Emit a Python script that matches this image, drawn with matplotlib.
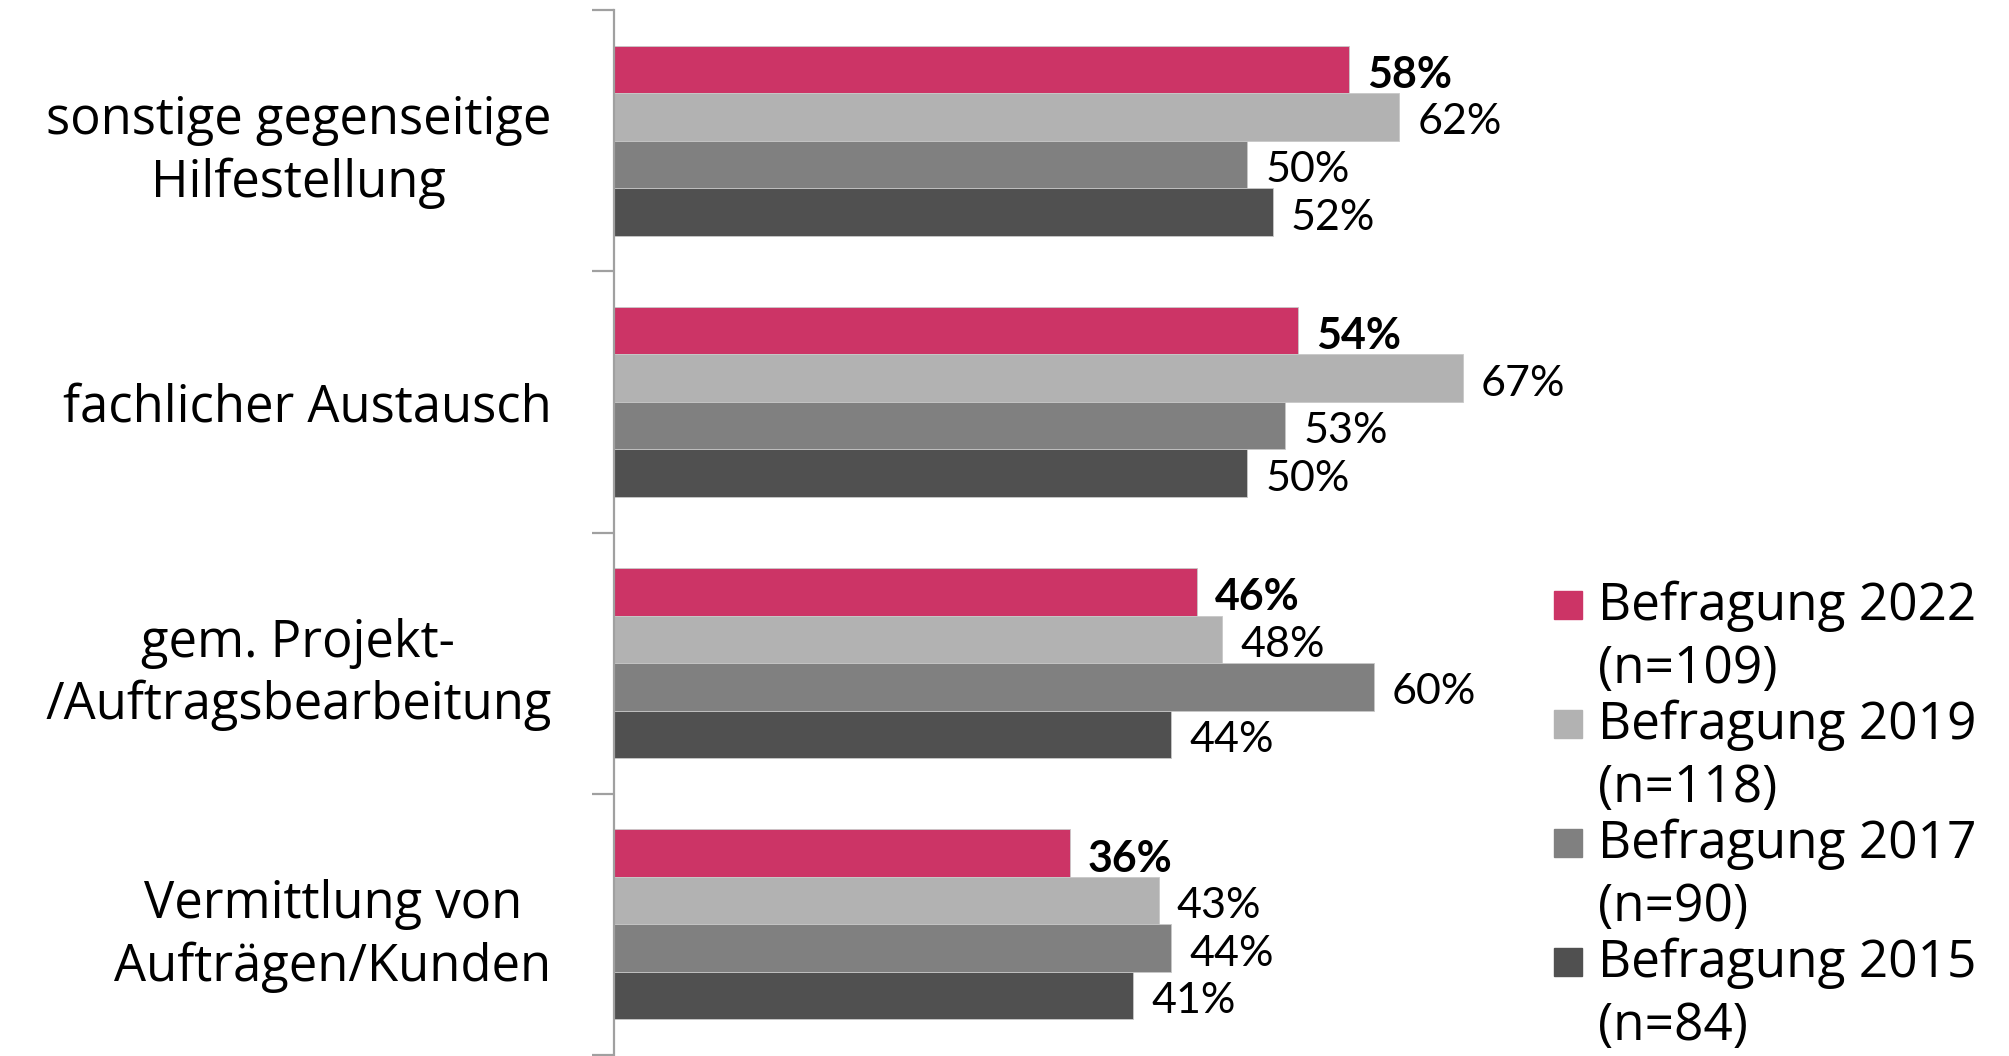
import matplotlib.pyplot as plt
import numpy as np
from matplotlib.patches import Rectangle

categories = [
    "sonstige gegenseitige\nHilfestellung",
    "fachlicher Austausch",
    "gem. Projekt-\n/Auftragsbearbeitung",
    "Vermittlung von\nAufträgen/Kunden",
]
series_names = ["Befragung 2022", "Befragung 2019", "Befragung 2017", "Befragung 2015"]
series_n = ["(n=109)", "(n=118)", "(n=90)", "(n=84)"]
values_2022 = [58, 54, 46, 36]
values_2019 = [62, 67, 48, 43]
values_2017 = [50, 53, 60, 44]
values_2015 = [52, 50, 44, 41]

colors = ["#CC3466", "#B2B2B2", "#808080", "#505050"]
all_values = [values_2022, values_2019, values_2017, values_2015]

plt.rcParams["font.family"] = ["Lato", "DejaVu Sans"]

W, H = 2009, 1056
fig = plt.figure(figsize=(W / 100, H / 100), dpi=100)
ax = fig.add_axes([614 / W, 1 - 1055 / H, 950 / W, 1045 / H])

y = np.arange(len(categories))
bar_h = 0.182
offsets = [-1.5 * bar_h, -0.5 * bar_h, 0.5 * bar_h, 1.5 * bar_h]

for i, vals in enumerate(all_values):
    bars = ax.barh(y + offsets[i], vals, height=bar_h, color=colors[i],
                   edgecolor="#c8c8c8", linewidth=0.6)
    for b, v in zip(bars, vals):
        ax.annotate(f"{v}%", (b.get_width(), b.get_y() + b.get_height() / 2),
                    xytext=(13, -4), textcoords="offset points",
                    ha="left", va="center", fontsize=31,
                    fontweight="bold" if i == 0 else "normal", color="black")

ax.set_xlim(0, 75)
ax.set_ylim(3.5, -0.5)
for s in ["top", "right", "bottom"]:
    ax.spines[s].set_visible(False)
ax.spines["left"].set_color("#A0A0A0")
ax.spines["left"].set_linewidth(1.6)
ax.set_xticks([])
ax.set_yticks(y)
ax.set_yticklabels(categories, fontsize=36.5, family="Open Sans",
                   multialignment="center", linespacing=1.28)
ax.tick_params(axis="y", which="major", length=0, pad=45)
ax.set_yticks(np.arange(-0.5, 4, 1), minor=True)
ax.tick_params(axis="y", which="minor", length=16, width=1.6, color="#A0A0A0",
               direction="out")

# legend drawn by hand so the squares sit next to the first line
base0 = 620
step = 119
for i, name in enumerate(series_names):
    base = base0 + i * step
    fig.patches.append(Rectangle((1554 / W, 1 - (base - 1) / H), 28 / W, 28 / H,
                                 transform=fig.transFigure, color=colors[i]))
    fig.text(1598 / W, 1 - base / H, name, fontsize=37, family="Open Sans",
             va="baseline", ha="left")
    fig.text(1598 / W, 1 - (base + 63) / H, series_n[i], fontsize=37,
             family="Open Sans", va="baseline", ha="left")

fig.savefig("out.png", dpi=100)
